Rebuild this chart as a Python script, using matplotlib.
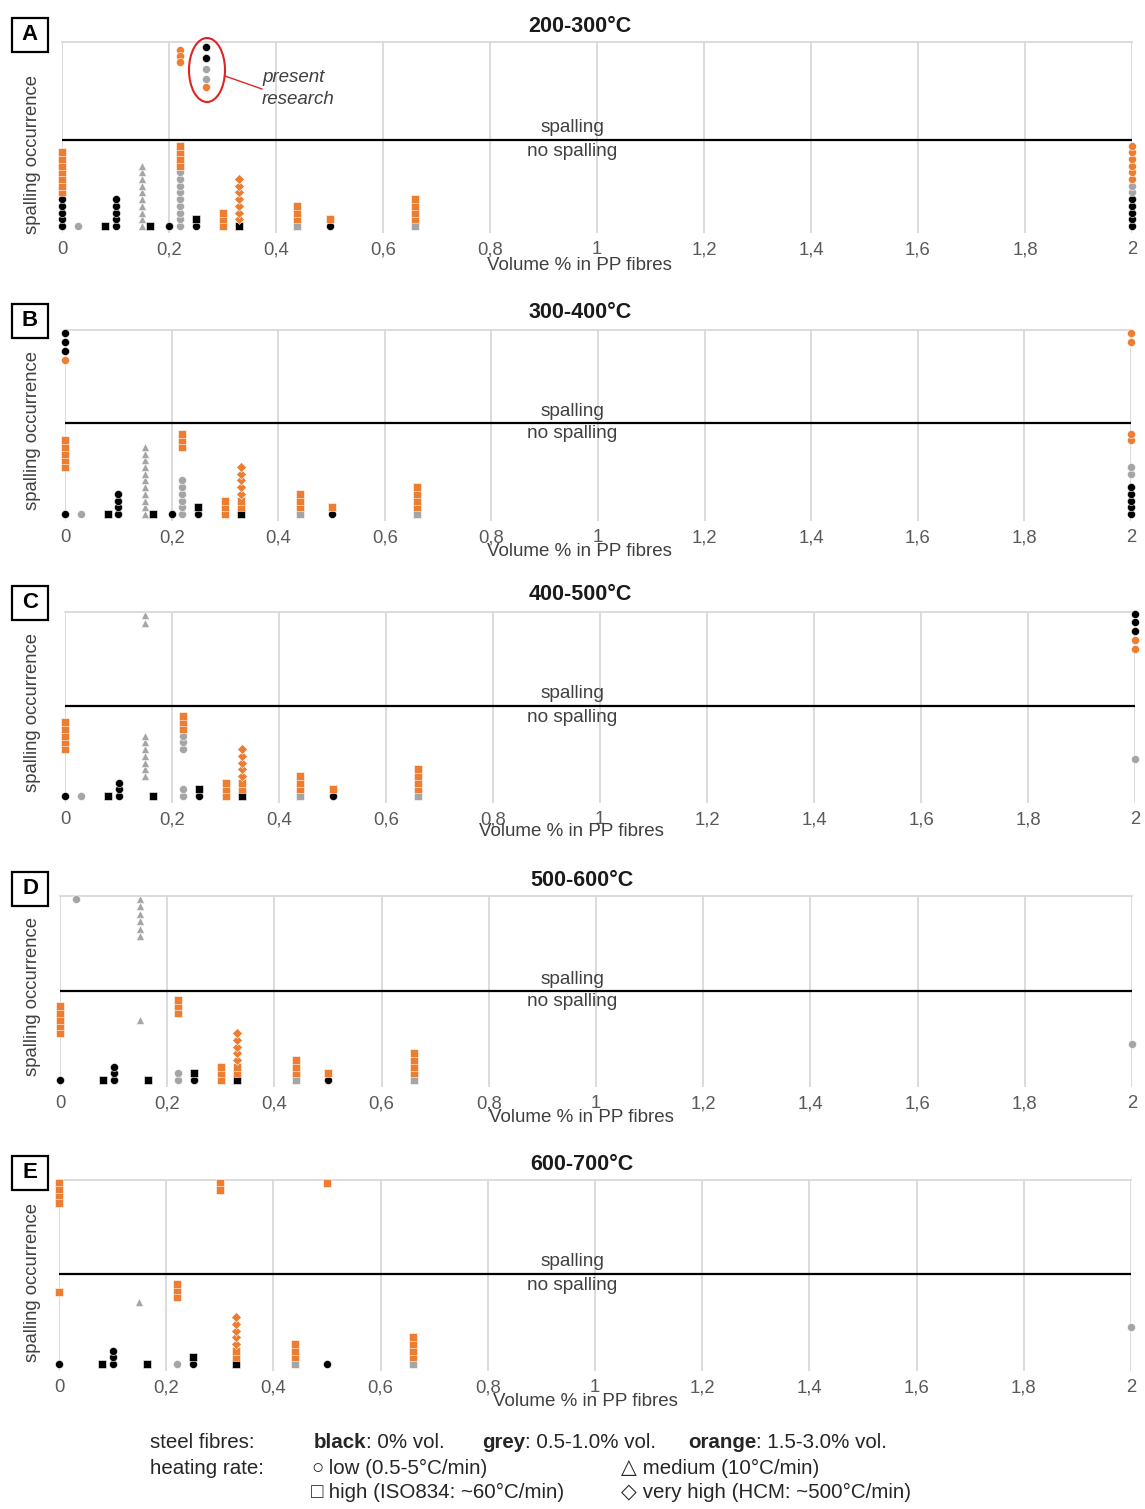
import numpy as np
import matplotlib.pyplot as plt
from matplotlib.patches import Ellipse, Rectangle

plt.rcParams['font.family'] = ['Liberation Sans', 'DejaVu Sans']

W, H = 1145, 1509

titles = ['200-300°C', '300-400°C', '400-500°C', '500-600°C', '600-700°C']
letters = ['A', 'B', 'C', 'D', 'E']
xticks = [0, 0.2, 0.4, 0.6, 0.8, 1, 1.2, 1.4, 1.6, 1.8, 2]
xticklabels = ['0', '0,2', '0,4', '0,6', '0,8', '1', '1,2', '1,4', '1,6', '1,8', '2']

# steel fibre content -> colour, heating rate -> marker
colours = {'k': '#000000', 'g': '#a5a5a5', 'o': '#ed7d31'}
sizes = {'o': 5.8, '^': 6.0, 's': 5.4, 'D': 4.8}

# (PP fibre vol %, steel colour, heating marker, first level, count, step)
# positive step = no spalling (stack up), negative = spalling (stack down from top)
A_groups = [
    (0, 'k', 'o', 0, 5, 1), (0, 'o', 's', 5, 7, 1),
    (0.03, 'g', 'o', 0, 1, 1),
    (0.08, 'k', 's', 0, 1, 1),
    (0.1, 'k', 'o', 0, 5, 1),
    (0.15, 'g', '^', 0, 10, 1),
    (0.165, 'k', 's', 0, 1, 1),
    (0.2, 'k', 'o', 0, 1, 1),
    (0.22, 'g', 'o', 0, 9, 1), (0.22, 'o', 's', 9, 4, 1),
    (0.25, 'k', 'o', 0, 1, 1), (0.25, 'k', 's', 1, 1, 1),
    (0.3, 'o', 's', 0, 3, 1),
    (0.33, 'k', 's', 0, 1, 1), (0.33, 'o', 'D', 1, 7, 1),
    (0.44, 'g', 's', 0, 1, 1), (0.44, 'o', 's', 1, 3, 1),
    (0.5, 'k', 'o', 0, 1, 1), (0.5, 'o', 's', 1, 1, 1),
    (0.66, 'g', 's', 0, 1, 1), (0.66, 'o', 's', 1, 4, 1),
    (2, 'k', 'o', 0, 5, 1), (2, 'g', 'o', 5, 2, 1), (2, 'o', 'o', 7, 6, 1),
    (0.22, 'o', 'o', 26.2, 3, -0.85),
    (0.27, 'k', 'o', 26.7, 2, -1.6), (0.27, 'g', 'o', 23.4, 2, -1.5),
    (0.27, 'o', 'o', 20.7, 1, -1),
]
B_groups = [
    (0, 'k', 'o', 0, 1, 1), (0, 'o', 's', 7, 5, 1),
    (0.03, 'g', 'o', 0, 1, 1),
    (0.08, 'k', 's', 0, 1, 1),
    (0.1, 'k', 'o', 0, 4, 1),
    (0.15, 'g', '^', 0, 11, 1),
    (0.165, 'k', 's', 0, 1, 1),
    (0.2, 'k', 'o', 0, 1, 1),
    (0.22, 'g', 'o', 0, 6, 1), (0.22, 'o', 's', 10, 3, 1),
    (0.25, 'k', 'o', 0, 1, 1), (0.25, 'k', 's', 1, 1, 1),
    (0.3, 'o', 's', 0, 3, 1),
    (0.33, 'k', 's', 0, 1, 1), (0.33, 'o', 's', 1, 2, 1), (0.33, 'o', 'D', 3, 5, 1),
    (0.44, 'g', 's', 0, 1, 1), (0.44, 'o', 's', 1, 3, 1),
    (0.5, 'k', 'o', 0, 1, 1), (0.5, 'o', 's', 1, 1, 1),
    (0.66, 'g', 's', 0, 1, 1), (0.66, 'o', 's', 1, 4, 1),
    (2, 'k', 'o', 0, 5, 1), (2, 'g', 'o', 6, 2, 1), (2, 'o', 'o', 11, 2, 1),
    (0, 'k', 'o', 27, 3, -1.35), (0, 'o', 'o', 23, 1, -1),
    (2, 'o', 'o', 27, 2, -1.3),
]
C_groups = [
    (0, 'k', 'o', 0, 1, 1), (0, 'o', 's', 7, 5, 1),
    (0.03, 'g', 'o', 0, 1, 1),
    (0.08, 'k', 's', 0, 1, 1),
    (0.1, 'k', 'o', 0, 3, 1),
    (0.15, 'g', '^', 3, 7, 1),
    (0.165, 'k', 's', 0, 1, 1),
    (0.22, 'g', 'o', 0, 2, 1), (0.22, 'g', 'o', 7, 3, 1), (0.22, 'o', 's', 10, 3, 1),
    (0.25, 'k', 'o', 0, 1, 1), (0.25, 'k', 's', 1, 1, 1),
    (0.3, 'o', 's', 0, 3, 1),
    (0.33, 'k', 's', 0, 1, 1), (0.33, 'o', 's', 1, 2, 1), (0.33, 'o', 'D', 3, 5, 1),
    (0.44, 'g', 's', 0, 1, 1), (0.44, 'o', 's', 1, 3, 1),
    (0.5, 'k', 'o', 0, 1, 1), (0.5, 'o', 's', 1, 1, 1),
    (0.66, 'g', 's', 0, 1, 1), (0.66, 'o', 's', 1, 4, 1),
    (2, 'g', 'o', 5.5, 1, 1),
    (0.15, 'g', '^', 27, 2, -1.2),
    (2, 'k', 'o', 27.2, 3, -1.3), (2, 'o', 'o', 23.3, 2, -1.3),
]
D_groups = [
    (0, 'k', 'o', 0, 1, 1), (0, 'o', 's', 7, 5, 1),
    (0.08, 'k', 's', 0, 1, 1),
    (0.1, 'k', 'o', 0, 3, 1),
    (0.15, 'g', '^', 9, 1, 1),
    (0.165, 'k', 's', 0, 1, 1),
    (0.22, 'g', 'o', 0, 2, 1), (0.22, 'o', 's', 10, 3, 1),
    (0.25, 'k', 'o', 0, 1, 1), (0.25, 'k', 's', 1, 1, 1),
    (0.3, 'o', 's', 0, 3, 1),
    (0.33, 'k', 's', 0, 1, 1), (0.33, 'o', 's', 1, 2, 1), (0.33, 'o', 'D', 3, 5, 1),
    (0.44, 'g', 's', 0, 1, 1), (0.44, 'o', 's', 1, 3, 1),
    (0.5, 'k', 'o', 0, 1, 1), (0.5, 'o', 's', 1, 1, 1),
    (0.66, 'g', 's', 0, 1, 1), (0.66, 'o', 's', 1, 4, 1),
    (2, 'g', 'o', 5.4, 1, 1),
    (0.03, 'g', 'o', 27, 1, -1),
    (0.15, 'g', '^', 27, 6, -1.1),
]
E_groups = [
    (0, 'k', 'o', 0, 1, 1), (0, 'o', 's', 10.7, 1, 1),
    (0.08, 'k', 's', 0, 1, 1),
    (0.1, 'k', 'o', 0, 3, 1),
    (0.15, 'g', '^', 9.2, 1, 1),
    (0.165, 'k', 's', 0, 1, 1),
    (0.22, 'g', 'o', 0, 1, 1), (0.22, 'o', 's', 10, 3, 1),
    (0.25, 'k', 'o', 0, 1, 1), (0.25, 'k', 's', 1, 1, 1),
    (0.33, 'k', 's', 0, 1, 1), (0.33, 'o', 's', 1, 2, 1), (0.33, 'o', 'D', 3, 5, 1),
    (0.44, 'g', 's', 0, 1, 1), (0.44, 'o', 's', 1, 3, 1),
    (0.5, 'k', 'o', 0, 1, 1),
    (0.66, 'g', 's', 0, 1, 1), (0.66, 'o', 's', 1, 4, 1),
    (2, 'g', 'o', 5.5, 1, 1),
    (0, 'o', 's', 27, 4, -1),
    (0.3, 'o', 's', 27, 2, -1),
    (0.5, 'o', 's', 27, 1, -1),
]
panels = [A_groups, B_groups, C_groups, D_groups, E_groups]

# layout in pixels
u = 6.7                      # one stack level
baselines = [226, 514, 796, 1080, 1364]
lefts = [62, 65, 65, 60, 59]
rights = [1132, 1131, 1135, 1132, 1131]
split_px = [140, 423, 706, 991, 1274]
title_xy = [(580, 27), (580, 313), (580, 595), (582, 881), (582, 1165)]
xlab_xy = [(579, 266), (579, 551), (571, 832), (581, 1117), (585, 1402)]
ylab_y = [155, 430, 712, 997, 1282]

fig = plt.figure(figsize=(W / 100, H / 100), dpi=100)

for i, groups in enumerate(panels):
    b, l, r = baselines[i], lefts[i], rights[i]
    ax = fig.add_axes([l / W, 1 - (b + u) / H, (r - l) / W, 28.5 * u / H])
    ax.set_xlim(0, 2)
    ax.set_ylim(-1, 27.5)
    ax.set_xticks(xticks)
    ax.set_xticklabels(xticklabels)
    ax.set_yticks([])
    ax.tick_params(axis='x', length=0, pad=6, labelsize=13.3, labelcolor='#595959')
    ax.grid(axis='x', color='#d9d9d9', lw=1.3)
    ax.set_axisbelow(True)
    for s in ['left', 'right', 'bottom']:
        ax.spines[s].set_visible(False)
    ax.spines['top'].set_color('#d9d9d9')
    ax.spines['top'].set_linewidth(1.3)

    ax.axhline((b - split_px[i]) / u, color='black', lw=1.6, zorder=2)

    for x, c, m, y0, n, step in groups:
        ys = y0 + step * np.arange(n)
        ax.plot(np.full(n, x), ys, ls='none', marker=m, ms=sizes[m],
                color=colours[c], mec='white', mew=0.4, clip_on=False, zorder=3)

# overlay for all the loose text, in pixel coordinates
ov = fig.add_axes([0, 0, 1, 1])
ov.set_xlim(0, W)
ov.set_ylim(H, 0)
ov.axis('off')

txt = '#404040'
for i in range(5):
    tx, ty = title_xy[i]
    ov.text(tx, ty, titles[i], ha='center', va='center', fontsize=15.5,
            fontweight='bold', color='#1a1a1a')
    lx, ly = xlab_xy[i]
    ov.text(lx, ly, 'Volume % in PP fibres', ha='center', va='center',
            fontsize=13.5, color=txt)
    ov.text(33, ylab_y[i], 'spalling occurrence', rotation=90, ha='center',
            va='center', fontsize=13.3, color=txt)
    ov.text(572, split_px[i] - 12, 'spalling', ha='center', va='center',
            fontsize=13.7, color=txt)
    ov.text(572, split_px[i] + 11, 'no spalling', ha='center', va='center',
            fontsize=13.7, color=txt)
    cy = title_xy[i][1] + 8
    ov.add_patch(Rectangle((12, cy - 17), 36, 34, fc='white', ec='black', lw=1.6))
    ov.text(30, cy, letters[i], ha='center', va='center', fontsize=16,
            fontweight='bold', color='black')

# present research mark
ov.add_patch(Ellipse((207, 70), 36, 64, fill=False, ec='#e02424', lw=1.5))
ov.plot([225, 262], [76, 89], color='#e02424', lw=1.0)
ov.text(262, 78, 'present', ha='left', va='center', fontsize=13.5,
        style='italic', color=txt)
ov.text(262, 100, 'research', ha='left', va='center', fontsize=13.5,
        style='italic', color=txt)

# legend text
lg = '#262626'
fs = 14.8


def pair(x, y, first, rest, weight='bold'):
    t = ov.text(x, y, first, ha='left', va='center', fontsize=fs,
                fontweight=weight, color=lg)
    ov.annotate(rest, xy=(1, 0), xycoords=t, ha='left', va='bottom',
                fontsize=fs, color=lg)


ov.text(150, 1442, 'steel fibres:', ha='left', va='center', fontsize=fs, color=lg)
pair(314, 1442, 'black', ': 0% vol.')
pair(482, 1442, 'grey', ': 0.5-1.0% vol.')
pair(688, 1442, 'orange', ': 1.5-3.0% vol.')
ov.text(150, 1468, 'heating rate:', ha='left', va='center', fontsize=fs, color=lg)
pair(311, 1468, '○', ' low (0.5-5°C/min)')
pair(621, 1468, '△', ' medium (10°C/min)')
pair(311, 1493, '□', ' high (ISO834: ~60°C/min)')
pair(621, 1493, '◇', ' very high (HCM: ~500°C/min)')

fig.savefig('out.png', dpi=100)
